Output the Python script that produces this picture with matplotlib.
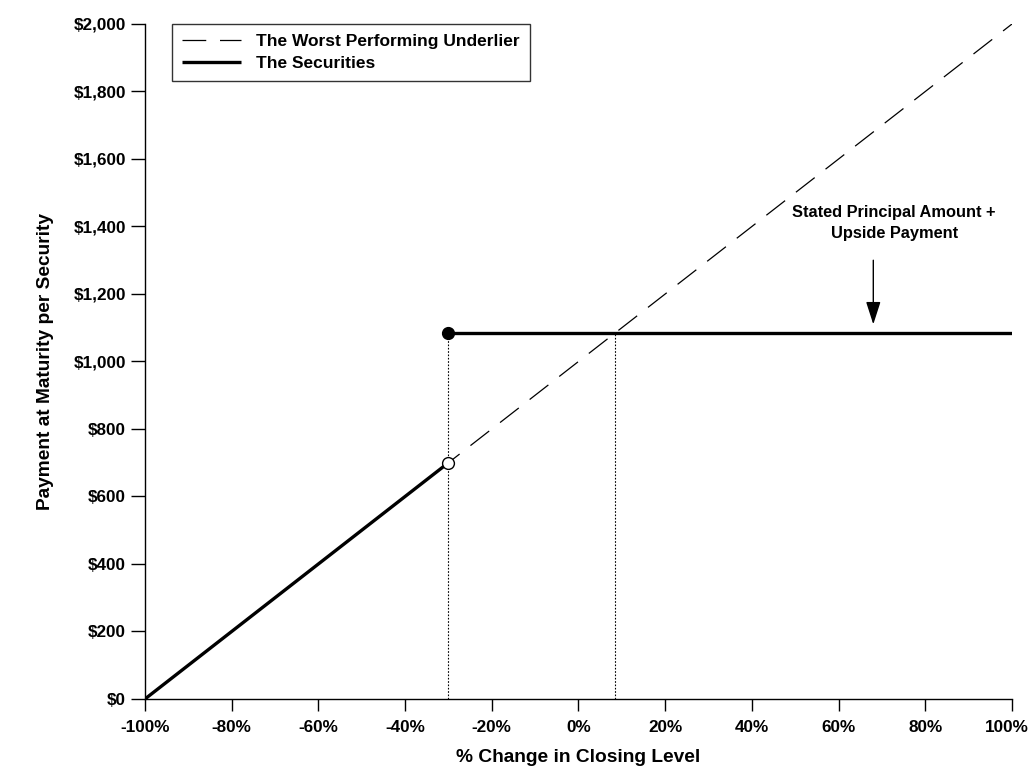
import numpy as np
import matplotlib
matplotlib.use("Agg")
from matplotlib import pyplot as plt
from matplotlib import transforms

# data
underlier_x = [-100, 100]
underlier_y = [0, 2000]
sec_low_x = [-100, -30]
sec_low_y = [0, 700]
sec_high_x = [-30, 100]
sec_high_y = [1085, 1085]
barrier = -30
cross = 8.5
cap = 1085
xticks = [-100, -80, -60, -40, -20, 0, 20, 40, 60, 80, 100]
yticks = [0, 200, 400, 600, 800, 1000, 1200, 1400, 1600, 1800, 2000]

plt.rcParams["font.family"] = ["Liberation Sans", "DejaVu Sans"]
plt.rcParams["font.weight"] = "bold"

fig = plt.figure(figsize=(10.31, 7.81), dpi=100)
ax = fig.add_axes([0.1406, 0.105, 0.841, 0.8643])

ax.plot(underlier_x, underlier_y, color="black", lw=0.9,
        dashes=(19, 11), label="The Worst Performing Underlier")
ax.plot(sec_low_x, sec_low_y, color="black", lw=2.4,
        solid_capstyle="butt", label="The Securities")
ax.plot(sec_high_x, sec_high_y, color="black", lw=2.4, solid_capstyle="butt")

ax.plot([barrier, barrier], [0, cap], color="black", lw=0.8, ls=(0, (1.5, 1.5)))
ax.plot([cross, cross], [0, cap], color="black", lw=0.8, ls=(0, (1.5, 1.5)))

ax.plot(barrier, cap, "o", color="black", ms=8.5, zorder=5)
ax.plot(barrier, sec_low_y[-1], "o", mfc="white", mec="black", mew=1.0,
        ms=8.5, zorder=5)

ax.annotate("", xy=(68, 1110), xytext=(68, 1300),
            arrowprops=dict(arrowstyle="-|>,head_length=1.4,head_width=0.45",
                            color="black", lw=1.0, shrinkA=0, shrinkB=0))
ax.text(72.8, 1410, "Stated Principal Amount +\nUpside Payment", ha="center",
        va="center", fontsize=11.8, fontweight="bold", linespacing=1.55)

ax.set_xlim(-100, 100)
ax.set_ylim(0, 2000)
ax.set_xticks(xticks)
ax.set_xticklabels([f"{v}%" for v in xticks])
ax.set_yticks(yticks)
ax.set_yticklabels([f"${v:,}" for v in yticks])
ax.tick_params(direction="out", width=1, labelsize=12.3)
ax.tick_params(axis="x", length=8.6, pad=6.5)
ax.tick_params(axis="y", length=10, pad=3.5)
for s in ["top", "right"]:
    ax.spines[s].set_visible(False)
for s in ["left", "bottom"]:
    ax.spines[s].set_linewidth(1)
    ax.spines[s].set_clip_on(False)

# last x label sits a little left of its tick, as in the source
last = ax.get_xticklabels()[-1]
last.set_transform(last.get_transform() +
                   transforms.ScaledTranslation(-5.5 / 100, 0,
                                                fig.dpi_scale_trans))

ax.set_xlabel("% Change in Closing Level", fontsize=13.8, fontweight="bold",
              labelpad=10)
ax.set_ylabel("Payment at Maturity per Security", fontsize=13.8,
              fontweight="bold", labelpad=14)

leg = ax.legend(loc="upper left", bbox_to_anchor=(0.031, 1.0), fontsize=12.5,
                frameon=True, fancybox=False, edgecolor="black",
                handlelength=3.45, borderpad=0.56, labelspacing=0.43,
                borderaxespad=0, handletextpad=0.86)
leg.get_frame().set_linewidth(1)

fig.savefig("out.png", dpi=100)
